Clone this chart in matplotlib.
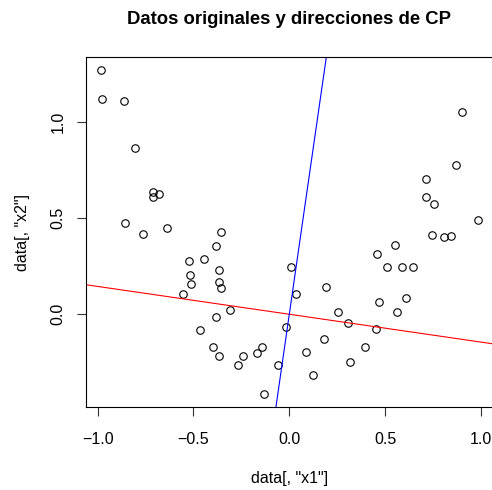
import matplotlib
matplotlib.use("Agg")
import matplotlib.pyplot as plt
import numpy as np

plt.rcParams['font.family'] = ['Liberation Sans', 'DejaVu Sans']

# puntos
x1 = [-0.984, -0.979, -0.861, -0.805, -0.713, -0.713, -0.678, -0.859, -0.765, -0.637,
      -0.355, -0.384, -0.522, -0.444, -0.365, -0.520, -0.513, -0.368, -0.358, -0.555,
      -0.308, -0.381, -0.468, 0.009, -0.019, -0.397, -0.367, -0.243, -0.266, -0.170,
      -0.144, -0.061, -0.132, 0.033, 0.193, 0.253, 0.308, 0.183, 0.086, 0.122,
      0.317, 0.393, 0.453, 0.468, 0.562, 0.611, 0.456, 0.512, 0.553, 0.588,
      0.647, 0.743, 0.806, 0.842, 0.900, 0.868, 0.713, 0.715, 0.755, 0.983]
x2 = [1.267, 1.118, 1.106, 0.865, 0.635, 0.609, 0.623, 0.476, 0.415, 0.448,
      0.429, 0.353, 0.278, 0.286, 0.230, 0.204, 0.157, 0.169, 0.138, 0.104,
      0.024, -0.012, -0.083, 0.248, -0.068, -0.170, -0.217, -0.215, -0.265, -0.201,
      -0.170, -0.262, -0.414, 0.105, 0.140, 0.012, -0.047, -0.127, -0.196, -0.317,
      -0.248, -0.171, -0.075, 0.064, 0.014, 0.085, 0.315, 0.247, 0.360, 0.247,
      0.247, 0.410, 0.401, 0.408, 1.052, 0.775, 0.702, 0.609, 0.574, 0.490]

# direcciones de las componentes principales (cargas)
pc1 = [0.9897, -0.1431]
pc2 = [0.1431, 0.9897]

x1 = np.array(x1)
x2 = np.array(x2)

fig = plt.figure(figsize=(4.92, 4.90), dpi=100)
rx = x1.max() - x1.min()
ry = x2.max() - x2.min()
xlim = (x1.min() - 0.04 * rx, x1.max() + 0.04 * rx)
ylim = (x2.min() - 0.04 * ry, x2.max() + 0.04 * ry)
ax = fig.add_axes([85.6 / 492, (490 - 406.9) / 490, 407.2 / 492, (406.9 - 57.4) / 490])

ax.plot(x1, x2, 'o', mfc='none', mec='black', ms=5.4, mew=0.8)
ax.axline((0, 0), slope=pc1[1] / pc1[0], color='red', lw=0.8)
ax.axline((0, 0), slope=pc2[1] / pc2[0], color='blue', lw=0.8)

ax.set_xlim(xlim)
ax.set_ylim(ylim)
ax.set_xticks([-1.0, -0.5, 0.0, 0.5, 1.0])
ax.set_yticks([0.0, 0.5, 1.0])
ax.set_xticklabels(['\u22121.0', '\u22120.5', '0.0', '0.5', '1.0'])
ax.set_yticklabels(['0.0', '0.5', '1.0'], rotation=90, va='center')
ax.tick_params(length=6.5, width=0.8, labelsize=11.5, color='#333333')
ax.tick_params(axis='x', pad=11.5)
ax.tick_params(axis='y', pad=8)
for s in ax.spines.values():
    s.set_linewidth(0.8)

ax.set_xlabel('data[, "x1"]', fontsize=11.5, labelpad=17)
ax.set_ylabel('data[, "x2"]', fontsize=11.5, labelpad=15)
fig.text(289 / 492, 1 - 19 / 490, 'Datos originales y direcciones de CP',
         ha='center', va='center', fontsize=13.3, fontweight='bold')

fig.savefig('out.png', dpi=100)
